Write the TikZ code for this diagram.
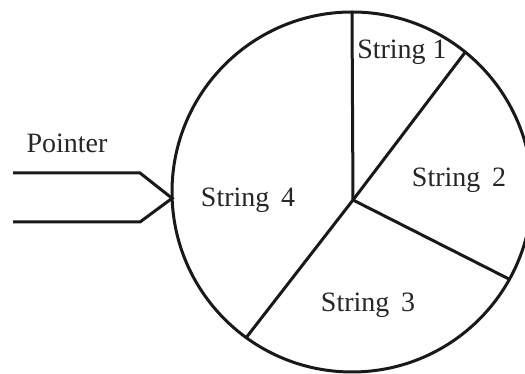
\documentclass[tikz,border=0pt]{standalone}
\usepackage{fontspec}
\setmainfont{Liberation Serif}
\begin{document}
\begin{tikzpicture}[x=1pt,y=1pt,
  lbl/.style={inner sep=0pt, text=black!85, font=\fontsize{28}{30}\selectfont},
  ln/.style={line width=3pt, black!90}]
\useasboundingbox (0,0) rectangle (525,374);
\node[circle, draw, ln, minimum size=360pt, inner sep=0pt, outer sep=0pt] (circ) at (352,182) {};
\coordinate (c) at (353,174);
\coordinate (tip) at (circ.182);
\coordinate (p1) at (140,201);
\coordinate (p2) at (140,152);
\coordinate (p1s) at (13,201);
\coordinate (p2s) at (13,152);
\draw[ln] (c) -- (circ.north);
\draw[ln] (c) -- (circ.51);
\draw[ln] (c) -- (circ.-29.4);
\draw[ln] (c) -- (circ.234);
\draw[ln] (p1s) -- (p1) -- (tip) -- (p2) -- (p2s);
\node[lbl] (s1) at (402,322) {String 1};
\node[lbl] (s2) at (459,194) {String\, 2};
\node[lbl] (s3) at (368,69) {String\, 3};
\node[lbl] (s4) at (248,174) {String\, 4};
\node[lbl] (ptr) at (67,231) {Pointer};
\end{tikzpicture}
\end{document}
